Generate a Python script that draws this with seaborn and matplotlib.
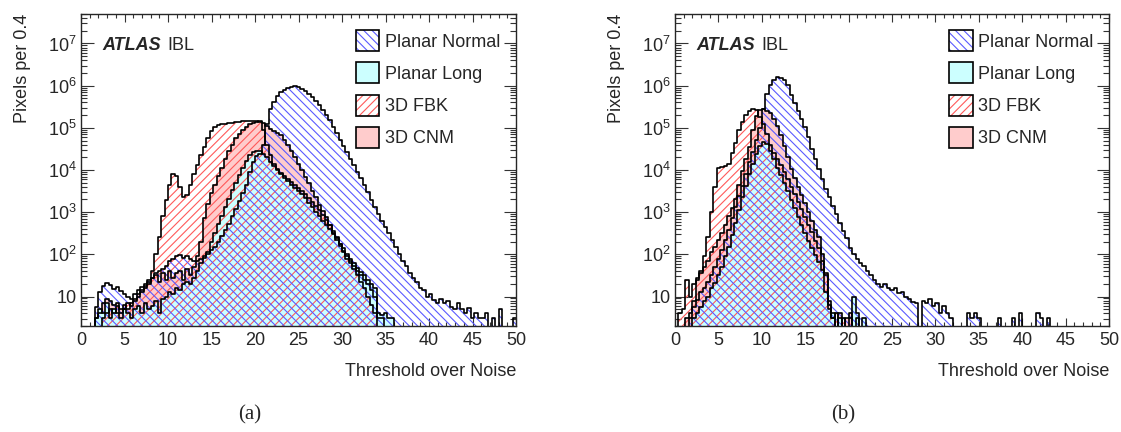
import numpy as np
import pandas as pd
import matplotlib
matplotlib.use("Agg")
import matplotlib.pyplot as plt
import seaborn as sns
from matplotlib.patches import Patch
from matplotlib.ticker import LogLocator, FuncFormatter, MultipleLocator, NullFormatter

# ---------------- data: log10(pixels per 0.4 bin), 0 = empty bin ----------------
bin_edges = [round(0.4 * k, 1) for k in range(126)]

series_labels = ["Planar Normal", "Planar Long", "3D FBK", "3D CNM"]

pn_a = [0, 0, 0, 0, 0.75, 1.1, 1.25, 1.33, 1.28, 1.18,
        1.22, 1.12, 1.05, 1.0, 0.93, 1.05, 1.15, 1.22, 1.3, 1.4,
        1.45, 1.55, 1.6, 1.65, 1.72, 1.85, 1.9, 1.95, 1.98, 1.92,
        1.95, 1.88, 1.85, 1.85, 1.88, 1.95, 2.02, 2.1, 2.18, 2.3,
        2.43, 2.57, 2.72, 2.9, 3.08, 3.27, 3.45, 3.65, 3.95, 4.2,
        4.33, 4.38, 4.6, 5.1, 5.45, 5.62, 5.75, 5.84, 5.9, 5.95,
        5.97, 5.98, 5.96, 5.93, 5.87, 5.8, 5.72, 5.64, 5.53, 5.42,
        5.31, 5.18, 5.03, 4.88, 4.72, 4.57, 4.42, 4.27, 4.12, 3.96,
        3.8, 3.64, 3.47, 3.3, 3.13, 2.96, 2.8, 2.64, 2.5, 2.34,
        2.18, 2.0, 1.85, 1.72, 1.55, 1.45, 1.35, 1.2, 1.15, 1.0,
        1.05, 0.92, 0.85, 0.95, 0.85, 0.9, 0.75, 0.7, 0.85, 0.7,
        0.6, 0.72, 0.48, 0.6, 0.48, 0.48, 0.6, 0, 0.48, 0,
        0.7, 0, 0, 0, 0.48]

pl_a = [0, 0, 0, 0, 0.48, 0.7, 0.6, 0.85, 0.48, 0.7,
        0.6, 0.48, 0.7, 0.6, 0.48, 0.7, 0.78, 0.6, 0.85, 0.7,
        0.78, 0.9, 0.6, 0.95, 1.0, 1.1, 1.05, 1.2, 1.15, 1.3,
        1.35, 1.3, 1.45, 1.6, 1.8, 1.92, 2.05, 2.3, 2.5, 2.72,
        2.92, 3.12, 3.32, 3.52, 3.7, 3.88, 4.05, 4.22, 4.35, 4.42,
        4.45, 4.45, 4.38, 4.3, 4.2, 4.1, 4.0, 3.9, 3.82, 3.73,
        3.65, 3.58, 3.5, 3.43, 3.33, 3.22, 3.12, 3.0, 2.9, 2.8,
        2.7, 2.6, 2.48, 2.38, 2.25, 2.15, 2.02, 1.9, 1.8, 1.68,
        1.58, 1.5, 1.4, 1.3, 1.2, 0.6, 0.55, 0.6, 0.48, 0.48,
        0, 0, 0, 0, 0, 0, 0, 0, 0, 0,
        0, 0, 0, 0, 0, 0, 0, 0, 0, 0,
        0, 0, 0, 0, 0, 0, 0, 0, 0, 0,
        0, 0, 0, 0, 0]

fbk_a = [0, 0, 0, 0, 0, 0, 0.48, 0.6, 0.7, 0.6,
         0.78, 0.6, 0.7, 0.85, 0.78, 0.9, 1.0, 1.1, 1.2, 1.35,
         1.6, 2.0, 2.4, 2.9, 3.3, 3.65, 3.9, 3.85, 3.6, 3.35,
         3.4, 3.65, 3.9, 4.12, 4.35, 4.55, 4.75, 4.92, 5.02, 5.07,
         5.08, 5.1, 5.11, 5.12, 5.13, 5.15, 5.16, 5.17, 5.17, 5.16,
         5.16, 5.14, 4.95, 4.6, 4.35, 4.15, 4.02, 3.92, 3.85, 3.78,
         3.72, 3.65, 3.58, 3.5, 3.42, 3.33, 3.24, 3.14, 3.04, 2.94,
         2.82, 2.7, 2.55, 2.4, 2.25, 2.05, 1.9, 1.8, 1.65, 1.5,
         1.35, 1.2, 1.0, 0.8, 0.6, 0, 0, 0, 0, 0,
         0, 0, 0, 0, 0, 0, 0, 0, 0, 0,
         0, 0, 0, 0, 0, 0, 0, 0, 0, 0,
         0, 0, 0, 0, 0, 0, 0, 0, 0, 0,
         0, 0, 0, 0, 0]

cnm_a = [0, 0, 0, 0, 0.48, 0.6, 0.85, 0.95, 0.9, 0.8,
         0.85, 0.7, 0.8, 0.7, 0.85, 0.95, 1.05, 1.15, 1.25, 1.3,
         1.45, 1.5, 1.35, 1.55, 1.4, 1.6, 1.45, 1.55, 1.6, 1.4,
         1.65, 1.5, 1.7, 1.95, 2.3, 2.85, 3.2, 3.45, 3.65, 3.85,
         4.05, 4.25, 4.45, 4.6, 4.75, 4.85, 4.95, 5.02, 5.08, 5.12,
         5.15, 5.16, 5.12, 5.05, 4.98, 4.93, 4.88, 4.83, 4.72, 4.6,
         4.45, 4.32, 4.15, 4.0, 3.84, 3.68, 3.5, 3.35, 3.18, 3.02,
         2.88, 2.7, 2.5, 2.35, 2.2, 2.08, 1.95, 1.85, 1.72, 1.6,
         1.5, 1.4, 1.3, 1.15, 1.0, 0.5, 0.48, 0, 0, 0,
         0, 0, 0, 0, 0, 0, 0, 0, 0, 0,
         0, 0, 0, 0, 0, 0, 0, 0, 0, 0,
         0, 0, 0, 0, 0, 0, 0, 0, 0, 0,
         0, 0, 0, 0, 0]

pn_b = [0, 0, 0, 0, 0.48, 0.75, 0.92, 1.1, 1.2, 1.35,
        1.52, 1.7, 1.9, 2.1, 2.33, 2.57, 2.85, 3.13, 3.38, 3.62,
        3.9, 4.18, 4.42, 4.7, 5.0, 5.45, 5.8, 6.02, 6.14, 6.2,
        6.19, 6.14, 6.02, 5.78, 5.6, 5.4, 5.2, 5.02, 4.78, 4.5,
        4.25, 4.02, 3.78, 3.55, 3.35, 3.15, 2.95, 2.75, 2.55, 2.38,
        2.15, 2.0, 1.9, 1.8, 1.72, 1.6, 1.5, 1.4, 1.3, 1.22,
        1.3, 1.2, 1.15, 1.2, 1.08, 1.1, 0.98, 0.95, 0.88, 0.85,
        0, 0.9, 0.85, 0.95, 0.78, 0.85, 0.6, 0.78, 0.6, 0.48,
        0, 0, 0, 0, 0.6, 0.48, 0.6, 0.48, 0, 0,
        0, 0, 0, 0.48, 0, 0, 0, 0.48, 0, 0.6,
        0, 0, 0, 0, 0.6, 0.48, 0, 0.48, 0, 0,
        0, 0, 0, 0, 0, 0, 0, 0, 0, 0,
        0, 0, 0, 0, 0]

pl_b = [0, 0, 0, 0, 0, 0.48, 0.6, 0.76, 0.9, 1.0,
        1.2, 1.31, 1.5, 1.71, 1.95, 2.18, 2.45, 2.75, 3.05, 3.35,
        3.62, 3.9, 4.15, 4.38, 4.58, 4.66, 4.62, 4.45, 4.25, 4.05,
        3.88, 3.7, 3.5, 3.29, 3.1, 2.89, 2.7, 2.5, 2.32, 2.15,
        1.98, 1.82, 1.62, 1.1, 0.7, 0.6, 0, 0.48, 0, 0,
        0, 1.0, 0.6, 0, 0.48, 0, 0, 0, 0, 0,
        0, 0, 0, 0, 0, 0, 0, 0, 0, 0,
        0, 0, 0, 0, 0, 0, 0, 0, 0, 0,
        0, 0, 0, 0, 0, 0, 0, 0, 0, 0,
        0, 0, 0, 0, 0, 0, 0, 0, 0, 0,
        0, 0, 0, 0, 0, 0, 0, 0, 0, 0,
        0, 0, 0, 0, 0, 0, 0, 0, 0, 0,
        0, 0, 0, 0, 0]

fbk_b = [0, 0.6, 0.7, 1.4, 1.0, 1.3, 1.45, 1.6, 1.95, 2.4,
         3.0, 3.6, 4.05, 4.08, 4.1, 4.15, 4.4, 4.65, 4.95, 5.15,
         5.3, 5.4, 5.45, 5.43, 5.25, 5.1, 4.85, 4.6, 4.4, 4.25,
         4.12, 3.95, 3.78, 3.6, 3.42, 3.25, 3.07, 2.89, 2.7, 2.52,
         2.32, 2.15, 1.85, 1.55, 0.8, 0.48, 0.6, 0, 0.48, 0,
         0.48, 0, 0, 0, 0, 0, 0, 0, 0, 0,
         0, 0, 0, 0, 0, 0, 0, 0, 0, 0,
         0, 0, 0, 0, 0, 0, 0, 0, 0, 0,
         0, 0, 0, 0, 0, 0, 0, 0, 0, 0,
         0, 0, 0, 0, 0, 0, 0, 0, 0, 0,
         0, 0, 0, 0, 0, 0, 0, 0, 0, 0,
         0, 0, 0, 0, 0, 0, 0, 0, 0, 0,
         0, 0, 0, 0, 0]

cnm_b = [0, 0, 0, 0.48, 0.6, 0.9, 1.4, 1.55, 1.7, 1.85,
         2.05, 2.18, 2.33, 2.5, 2.7, 2.9, 3.1, 3.32, 3.65, 3.98,
         4.25, 4.55, 4.95, 5.28, 5.42, 5.45, 5.4, 5.34, 5.2, 5.05,
         4.82, 4.58, 4.3, 4.02, 3.8, 3.6, 3.4, 3.21, 3.0, 2.8,
         2.58, 2.4, 2.0, 1.5, 0.9, 0.48, 0, 0.6, 0, 0.48,
         0.6, 0, 0.48, 0, 0, 0, 0, 0, 0, 0,
         0, 0, 0, 0, 0, 0, 0, 0, 0, 0,
         0, 0, 0, 0, 0, 0, 0, 0, 0, 0,
         0, 0, 0, 0, 0, 0, 0, 0, 0, 0,
         0, 0, 0, 0, 0, 0, 0, 0, 0, 0,
         0, 0, 0, 0, 0, 0, 0, 0, 0, 0,
         0, 0, 0, 0, 0, 0, 0, 0, 0, 0,
         0, 0, 0, 0, 0]

x_ticks = [0, 5, 10, 15, 20, 25, 30, 35, 40, 45, 50]

# ---------------- style ----------------
sns.set_style("ticks")
plt.rcParams["font.family"] = ["Liberation Sans", "DejaVu Sans"]
plt.rcParams["mathtext.fontset"] = "custom"
plt.rcParams["mathtext.rm"] = "Liberation Sans"
plt.rcParams["mathtext.it"] = "Liberation Sans:italic"
plt.rcParams["mathtext.bf"] = "Liberation Sans:bold"
plt.rcParams["hatch.linewidth"] = 0.8

PINK = "#ffcccc"
CYAN = "#ccffff"
RED_H = "#ff5a5a"
BLUE_H = "#5a5aff"
FS = 13

centers = [round(e + 0.2, 2) for e in bin_edges[:-1]]


def frame(logs):
    w = [10.0 ** v if v > 0 else 0.0 for v in logs]
    return pd.DataFrame({"x": centers, "w": w})


def yfmt(v, pos):
    n = int(round(np.log10(v)))
    if n == 1:
        return "10"
    return r"$10^{%d}$" % n


def panel(ax, pn, pl, fbk, cnm):
    common = dict(x="x", weights="w", bins=bin_edges, element="step", ax=ax)
    sns.histplot(data=frame(cnm), fill=True, color=PINK, alpha=1,
                 linewidth=0, **common)
    sns.histplot(data=frame(pl), fill=True, color=CYAN, alpha=1,
                 linewidth=0, **common)
    sns.histplot(data=frame(fbk), fill=True, color=RED_H, facecolor="none",
                 edgecolor=RED_H, hatch="////", linewidth=0, alpha=1, **common)
    sns.histplot(data=frame(pn), fill=True, color=BLUE_H, facecolor="none",
                 edgecolor=BLUE_H, hatch="\\\\\\\\", linewidth=0, alpha=1, **common)
    for s in (cnm, pl, fbk, pn):
        sns.histplot(data=frame(s), fill=False, color="black",
                     linewidth=1.2, **common)

    ax.set_yscale("log")
    ax.set_xlim(0, 50)
    ax.set_ylim(2, 5e7)
    ax.set_xticks(x_ticks)
    ax.xaxis.set_minor_locator(MultipleLocator(1))
    ax.yaxis.set_major_locator(LogLocator(base=10, numticks=20))
    ax.yaxis.set_minor_locator(LogLocator(base=10, subs=np.arange(2, 10), numticks=20))
    ax.yaxis.set_minor_formatter(NullFormatter())
    ax.yaxis.set_major_formatter(FuncFormatter(yfmt))
    ax.tick_params(which="both", direction="in", top=True, right=True,
                   labelsize=FS, width=0.8, color="#333333")
    ax.tick_params(axis="x", which="major", length=6, pad=4)
    ax.tick_params(axis="x", which="minor", length=3)
    ax.tick_params(axis="y", which="major", length=9, pad=3)
    ax.tick_params(axis="y", which="minor", length=4.5)
    for sp in ax.spines.values():
        sp.set_linewidth(1.0)

    ax.set_xlabel("Threshold over Noise", fontsize=FS, loc="right")
    ax.set_ylabel("Pixels per 0.4", fontsize=FS, loc="top")
    ax.xaxis.set_label_coords(1.0, -0.12)
    ax.yaxis.set_label_coords(-0.115, 1.0)

    t = ax.text(0.05, 0.90, "ATLAS", transform=ax.transAxes, fontsize=FS,
                fontweight="bold", style="italic", va="center", ha="left")
    ax.annotate("IBL", xy=(1, 0.5), xycoords=t, xytext=(4, 0),
                textcoords="offset points", va="center", ha="left", fontsize=FS)

    handles = [
        (Patch(facecolor="white", edgecolor=BLUE_H, hatch="\\\\\\\\", linewidth=0),
         Patch(facecolor="none", edgecolor="black", linewidth=1.2)),
        Patch(facecolor=CYAN, edgecolor="black", linewidth=1.2),
        (Patch(facecolor="white", edgecolor=RED_H, hatch="////", linewidth=0),
         Patch(facecolor="none", edgecolor="black", linewidth=1.2)),
        Patch(facecolor=PINK, edgecolor="black", linewidth=1.2),
    ]
    ax.legend(handles, series_labels, loc="upper left", bbox_to_anchor=(0.632, 0.948),
              frameon=False, fontsize=FS, handlelength=1.3, handleheight=1.4,
              labelspacing=0.63, handletextpad=0.3, borderpad=0, borderaxespad=0)


fig = plt.figure(figsize=(11.21, 4.32), dpi=100)
ax_a = fig.add_axes([81 / 1121, 106 / 432, 435 / 1121, 312 / 432])
ax_b = fig.add_axes([675 / 1121, 106 / 432, 434 / 1121, 312 / 432])
panel(ax_a, pn_a, pl_a, fbk_a, cnm_a)
panel(ax_b, pn_b, pl_b, fbk_b, cnm_b)

fig.text(250 / 1121, 1 - 415 / 432, "(a)", family="Liberation Serif", fontsize=15,
         ha="center", va="center")
fig.text(843 / 1121, 1 - 415 / 432, "(b)", family="Liberation Serif", fontsize=15,
         ha="center", va="center")

fig.savefig("out.png", dpi=100)
